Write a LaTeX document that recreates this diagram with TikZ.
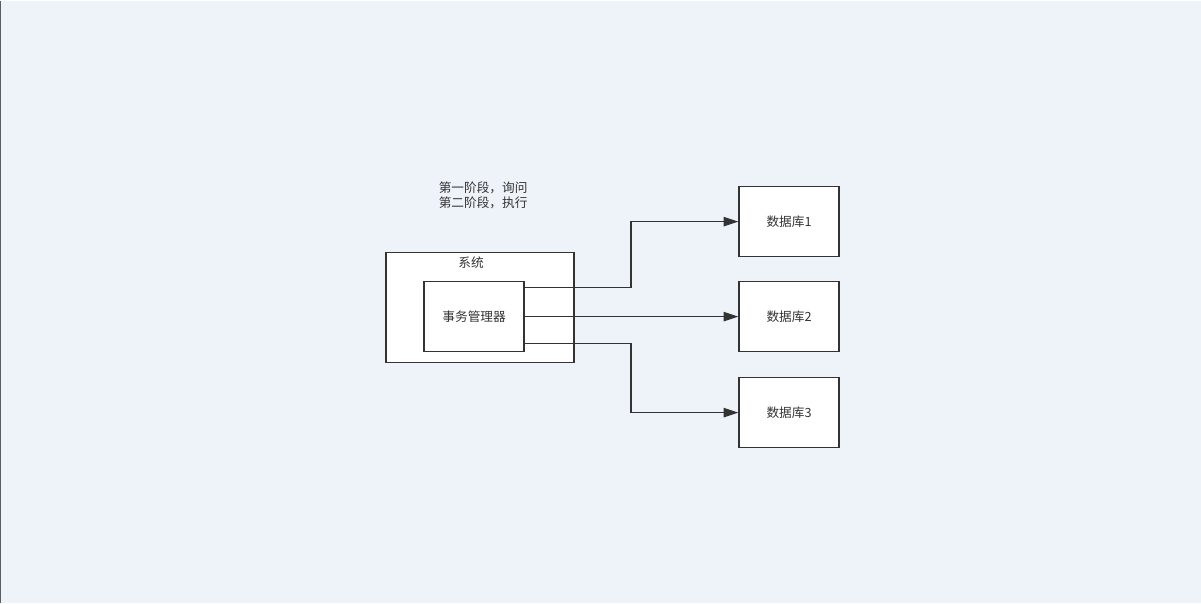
\documentclass[tikz,border=0pt]{standalone}
\usepackage{fontspec}
\setmainfont{Noto Sans CJK SC}
\usetikzlibrary{arrows.meta}
\definecolor{bgcol}{HTML}{EEF3FA}
\definecolor{linecol}{HTML}{333333}
\tikzset{
	box/.style={draw=linecol, line width=1.1pt, fill=white, inner sep=0pt},
	link/.style={draw=linecol, line width=1.1pt, -{Triangle[length=11pt,width=7pt]}},
	lbl/.style={font=\fontsize{9.5pt}{11pt}\selectfont, text=linecol}
}
\begin{document}
\begin{tikzpicture}[x=0.75pt,y=-0.75pt]
	
	\fill[bgcol] (0,0) rectangle (1201,602);
	\draw[linecol!80, line width=1pt] (0.5,0) -- (0.5,602);
	
	\node[lbl, align=center] (phase) at (483,195) {第一阶段，询问\\第二阶段，执行};
	
	\node[box, minimum width=141pt, minimum height=82.5pt] (sys) at (480,307) {};
	
	\node[lbl] (systitle) at (471,262) {系统};
	
	\node[box, lbl, minimum width=75pt, minimum height=52.5pt] (tm) at (474,316) {事务管理器};
	
	\node[box, lbl, minimum width=75pt, minimum height=52.5pt] (db1) at (789,221) {数据库1};
	
	\node[box, lbl, minimum width=75pt, minimum height=52.5pt] (db2) at (789,316) {数据库2};
	
	\node[box, lbl, minimum width=75pt, minimum height=52.5pt] (db3) at (789,412) {数据库3};
	
	\draw[link] (tm.east |- 0,287) -| (631,221) -- (db1.west);
	\draw[link] (tm.east) -- (db2.west);
	\draw[link] (tm.east |- 0,343) -| (631,412) -- (db3.west);
	
\end{tikzpicture}
\end{document}
